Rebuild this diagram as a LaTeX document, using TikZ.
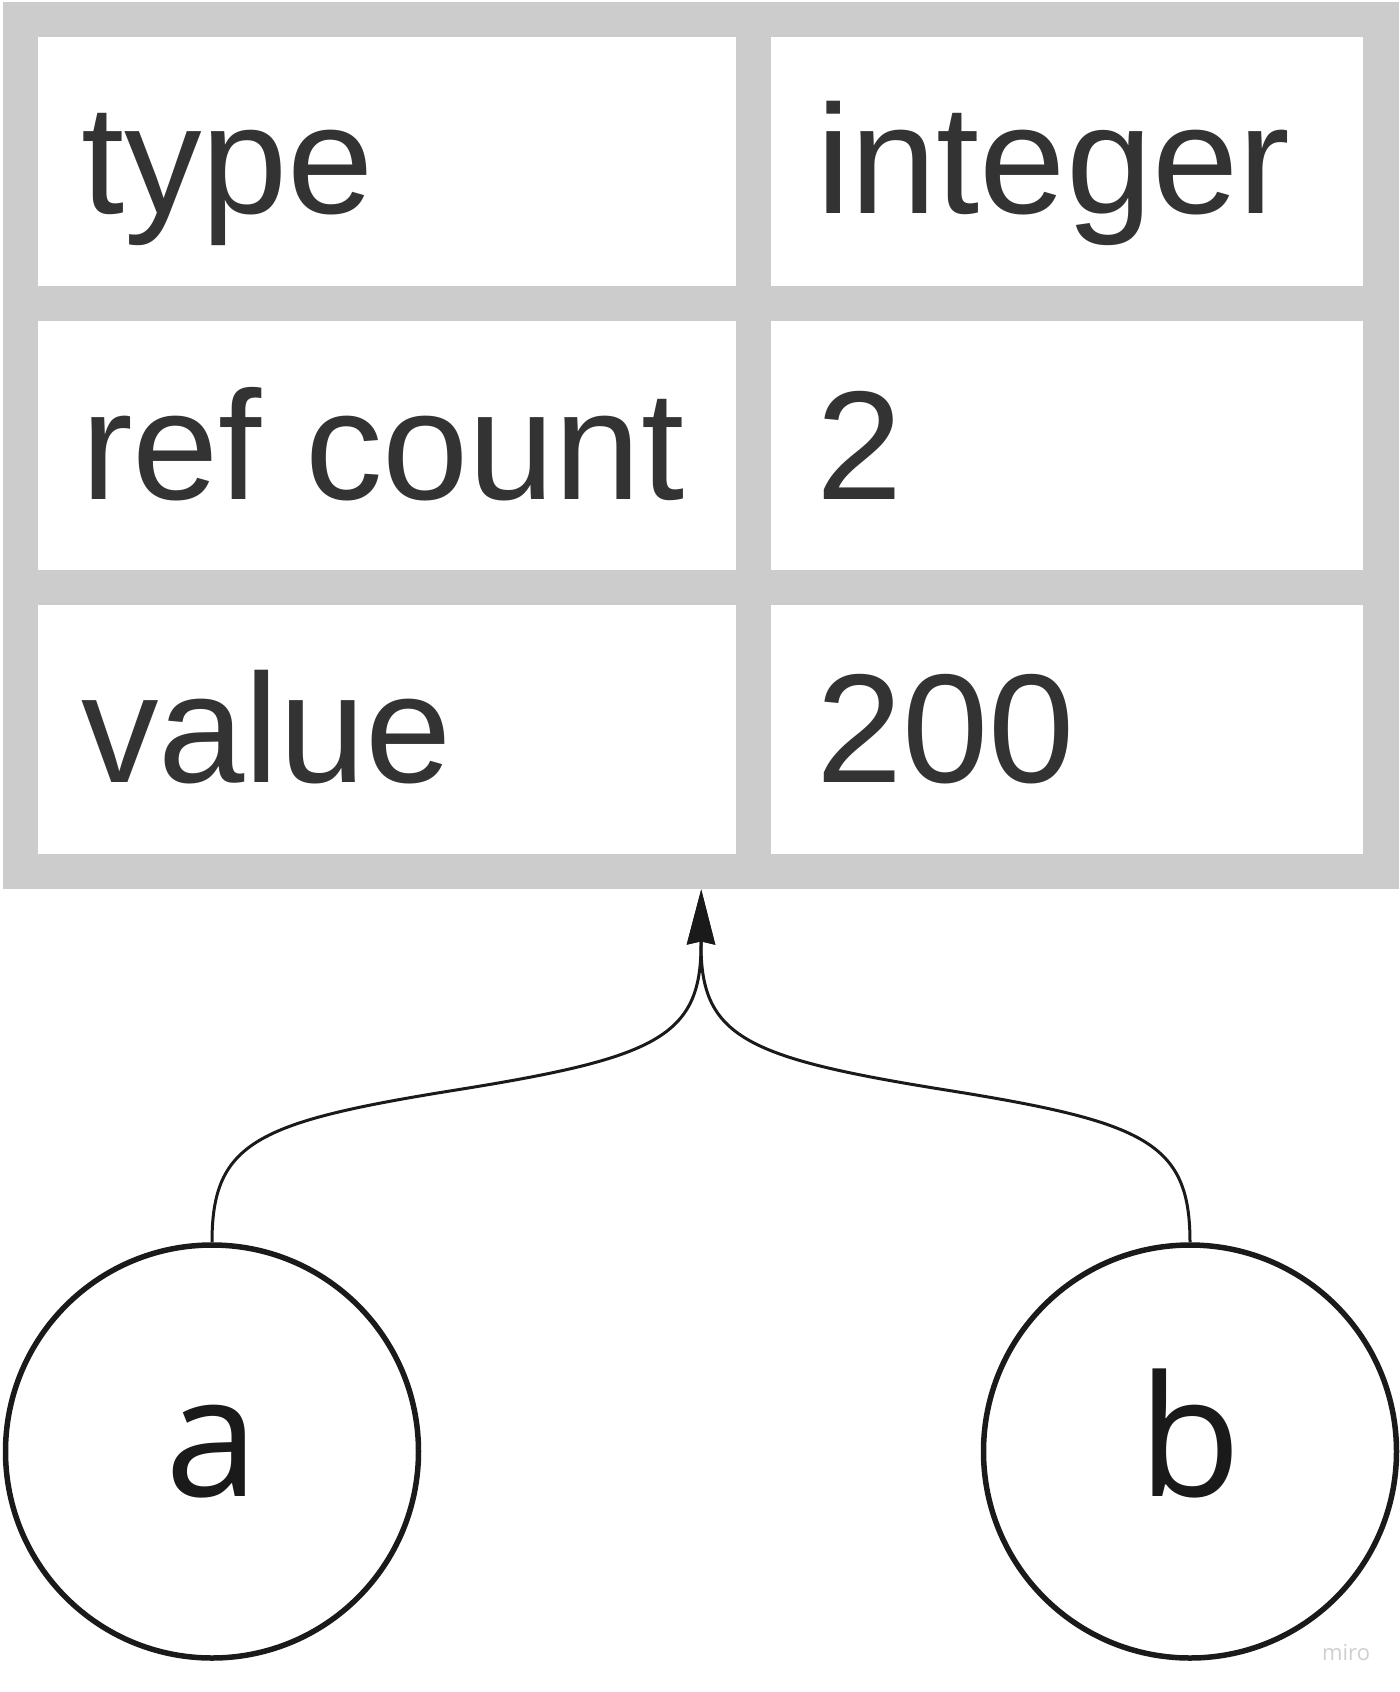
\documentclass[tikz,border=0pt]{standalone}
\usepackage{fontspec}
\setmainfont{Liberation Sans}
\newfontfamily\circfont{Open Sans}
\usetikzlibrary{arrows.meta}
\definecolor{cellgray}{HTML}{CCCCCC}
\definecolor{txt}{HTML}{333333}
\definecolor{ink}{HTML}{1A1A1A}
\definecolor{wmgray}{HTML}{CFCFCF}
\begin{document}
\begin{tikzpicture}[x=1pt,y=-1pt,
  cellbox/.style={fill=white, draw=none, inner sep=0pt, anchor=north west},
  lbl/.style={anchor=base west, inner sep=0pt, text=txt, font=\fontsize{155}{180}\selectfont},
  varnode/.style={circle, draw=ink, line width=5.5pt, minimum size=413pt, inner sep=0pt,
    text=ink, text height=89pt, text depth=0pt, font=\circfont\fontsize{168}{200}\selectfont},
  link/.style={draw=ink, line width=3pt, -{Stealth[length=55pt,width=28pt,inset=3pt]}}
]
\useasboundingbox (0,0) rectangle (1400,1692);
% table
\node[fill=cellgray, inner sep=0pt, minimum width=1396pt, minimum height=887pt, anchor=north west] (table) at (3,2) {};
\node[cellbox, minimum width=698pt, minimum height=249pt] (c11) at (38,37) {};
\node[cellbox, minimum width=592pt, minimum height=249pt] (c12) at (771,37) {};
\node[cellbox, minimum width=698pt, minimum height=249pt] (c21) at (38,321) {};
\node[cellbox, minimum width=592pt, minimum height=249pt] (c22) at (771,321) {};
\node[cellbox, minimum width=698pt, minimum height=249pt] (c31) at (38,605) {};
\node[cellbox, minimum width=592pt, minimum height=249pt] (c32) at (771,605) {};
\node[lbl] (t11) at (81,213) {type};
\node[lbl] (t12) at (816,213) {integer};
\node[lbl] (t21) at (81,499) {ref count};
\node[lbl] (t22) at (816,499) {2};
\node[lbl] (t31) at (81,782) {value};
\node[lbl] (t32) at (816,782) {200};
% variables
\node[varnode] (a) at (212,1451.5) {a};
\node[varnode] (b) at (1190,1451.5) {b};
% connectors
\coordinate (tip) at (table.south);
\coordinate (tipbase) at (701,945);
\coordinate (amid) at (456,1090);
\coordinate (bmid) at (946,1090);
\draw[link] (a.north) .. controls +(0,-100) and +(-200,32) .. (amid)
  .. controls +(200,-32) and +(0,92) .. (tipbase) -- (tip);
\draw[link] (b.north) .. controls +(0,-100) and +(200,32) .. (bmid)
  .. controls +(-200,-32) and +(0,92) .. (tipbase) -- (tip);
% watermark
\node[anchor=base west, inner sep=0pt, text=wmgray, font=\circfont\fontsize{22}{26}\selectfont] (wm) at (1322,1660) {miro};
\end{tikzpicture}
\end{document}
